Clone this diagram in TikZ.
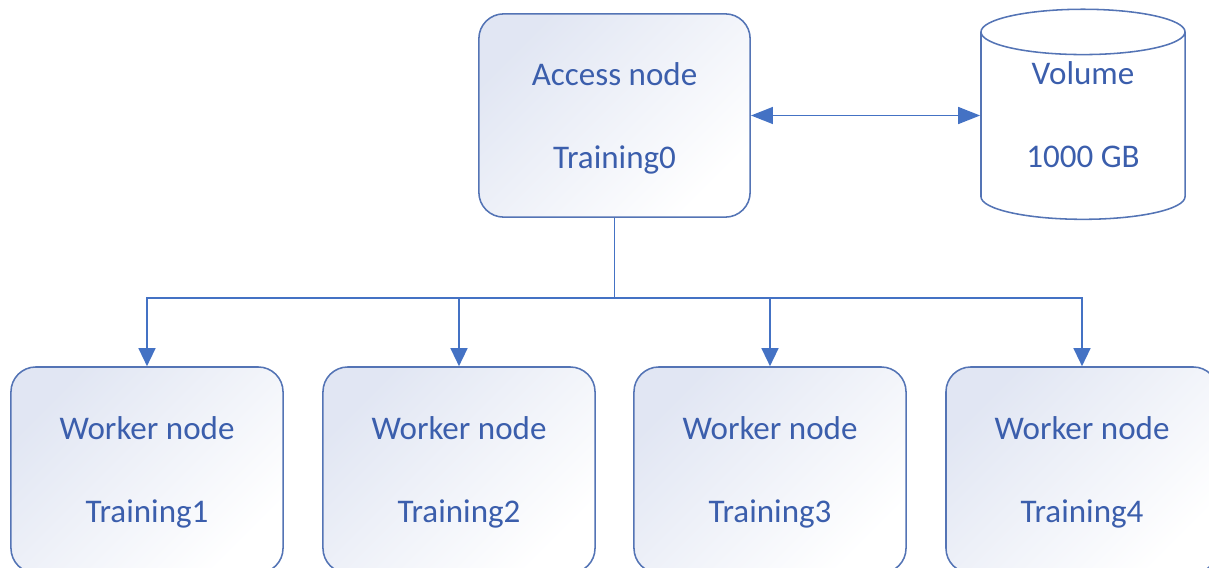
\documentclass[tikz,border=0pt]{standalone}
\usepackage{fontspec}
\setmainfont{Carlito}
\usetikzlibrary{positioning,arrows.meta,shapes.geometric}
\definecolor{lineblue}{HTML}{4472C4}
\definecolor{edgeblue}{HTML}{5474B5}
\definecolor{textblue}{HTML}{3B5EAC}
\definecolor{boxtint}{HTML}{E1E6F3}

\begin{document}
\begin{tikzpicture}[
  x=0.025cm, y=-0.025cm,
  hostbox/.style={rectangle, rounded corners=0.62cm, draw=edgeblue, line width=1.1pt,
    top color=boxtint, bottom color=white, shading angle=45, inner sep=0pt,
    text=textblue, align=center, text depth=0pt, font=\fontsize{23.5}{59}\selectfont},
  volume/.style={cylinder, shape border rotate=90, aspect=0.4, draw=edgeblue, line width=1.1pt,
    minimum width=5.1cm, minimum height=5.25cm, inner sep=0pt, text depth=0.55cm,
    text=textblue, align=center, font=\fontsize{23.5}{59}\selectfont},
  link/.style={draw=lineblue, line width=1.4pt},
  downtip/.style={-{Triangle[length=0.45cm, width=0.42cm]}}
]
\useasboundingbox (0,0) rectangle (1209,567);
\clip (0,0) rectangle (1209,567);

% Access node and storage
\node[hostbox, minimum width=6.78cm, minimum height=5.08cm] (access) at (614.5,115.5) {Access node\\Training0};
\node[volume] (vol) at (1083,126) {Volume\\1000 GB};
\draw[link, {Triangle[length=0.55cm, width=0.42cm]}-{Triangle[length=0.55cm, width=0.42cm]}] (access.east) -- (access.east -| vol.west);

% Worker nodes
\foreach \i/\x in {1/147,2/459,3/770,4/1082}
  \node[hostbox, minimum width=6.8cm, minimum height=5.15cm] (w\i) at (\x,470) {Worker node\\Training\i};

% Bus from access node
\coordinate (bus) at (614.5,298);
\draw[link] (access.south) -- (bus);
\foreach \i in {1,...,4}
  \draw[link, downtip] (bus) -| (w\i.north);

\end{tikzpicture}
\end{document}
